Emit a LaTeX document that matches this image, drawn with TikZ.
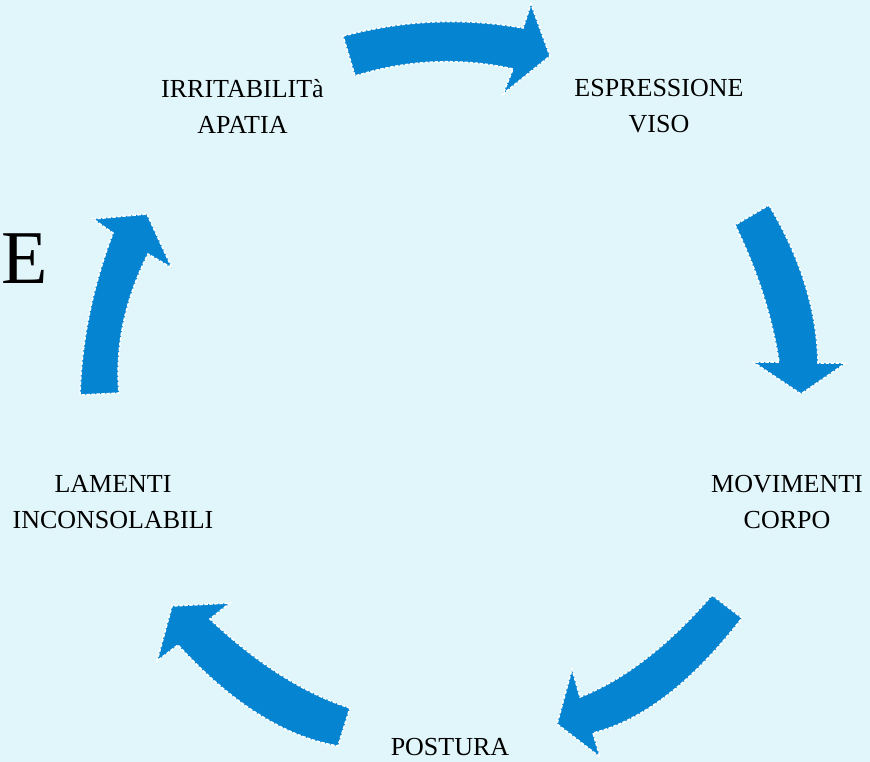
\documentclass[tikz,border=0pt]{standalone}
\usepackage{fontspec}
\setmainfont{Liberation Serif}
\definecolor{bgcyan}{HTML}{E1F6FA}
\definecolor{arrowblue}{HTML}{0584D2}
\begin{document}
\begin{tikzpicture}[x=1pt,y=-1pt,
  lbl/.style={font=\fontsize{26}{36}\selectfont, align=center, inner sep=0pt, text=black},
  blockarrow/.style={fill=arrowblue, draw=white, line width=1.5pt, dash pattern=on 3.5pt off 1.5pt, line join=miter}]
\useasboundingbox (0,0) rectangle (870,762);
\fill[bgcyan] (0,0) rectangle (870,762);

% labels
\node[lbl] (irr) at (242.5,106.5) {IRRITABILITà\\APATIA};
\node[lbl] (esp) at (659,106.5) {ESPRESSIONE\\VISO};
\node[lbl] (mov) at (787,502) {MOVIMENTI\\CORPO};
\node[lbl] (pos) at (450,747) {POSTURA};
\node[lbl] (lam) at (113,502) {LAMENTI\\INCONSOLABILI};
\node[font=\fontsize{76}{80}\selectfont, inner sep=0pt, anchor=base east] (bigE) at (48,283) {E};

% arrow irr -> esp
\path[blockarrow] (343,36) .. controls (403,20) and (463,17.3) .. (523,28) -- (531,4) -- (550,56)
  -- (503,94) -- (513,69) .. controls (460.3,57.3) and (407.7,59.7) .. (355,76) -- cycle;
% arrow esp -> mov
\path[blockarrow] (769,205) .. controls (800.7,257.7) and (817,310.3) .. (818,363) -- (846,363) -- (801,394)
  -- (753,362) -- (779,362) .. controls (771.9,316.3) and (757.3,270.7) .. (735,225) -- cycle;
% arrow mov -> pos
\path[blockarrow] (712,595) .. controls (668,645.8) and (624,679.8) .. (580,697) -- (572,669) -- (557,724)
  -- (600,757) -- (593,733) .. controls (642.7,720.7) and (692.3,682.3) .. (742,618) -- cycle;
% arrow pos -> lam
\path[blockarrow] (350,708) .. controls (303.3,692.9) and (256.7,663.2) .. (210,619) -- (230,603) -- (172,606)
  -- (157,661) -- (178,645) .. controls (231.3,703.3) and (284.7,737) .. (338,746) -- cycle;
% arrow lam -> irr
\path[blockarrow] (80,395) .. controls (81.5,341) and (92.5,287) .. (113,233) -- (93,219) -- (147,214)
  -- (172,268) -- (148,254) .. controls (124.7,300.3) and (115.1,346.7) .. (119,393) -- cycle;
\end{tikzpicture}
\end{document}
